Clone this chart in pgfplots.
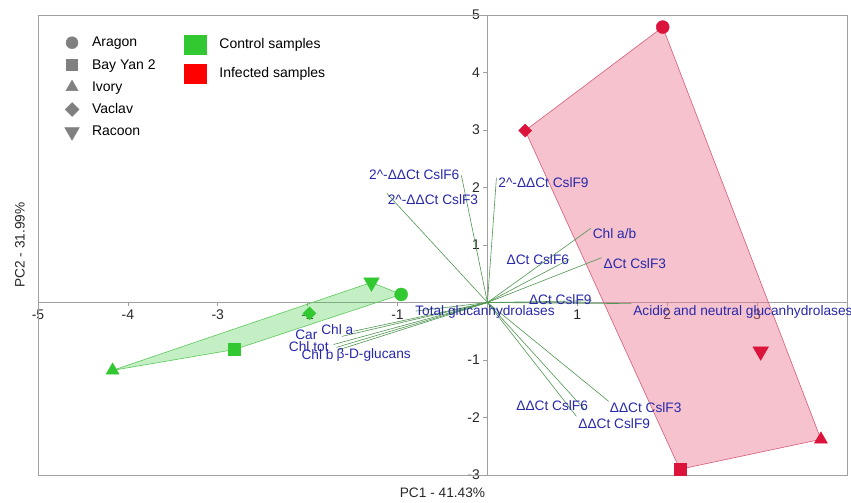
\documentclass[border=0pt]{standalone}
\usepackage{pgfplots}
\pgfplotsset{compat=1.18}
\usepackage{pgfplotstable}
\usepackage{fontspec}
\setmainfont{Liberation Sans}

\definecolor{ctrl}{RGB}{50,200,50}
\definecolor{inf}{RGB}{220,20,60}
\definecolor{ctrlfill}{RGB}{60,200,60}
\definecolor{inffill}{RGB}{232,120,145}
\definecolor{ctrledge}{RGB}{90,200,90}
\definecolor{infedge}{RGB}{215,90,120}
\definecolor{vec}{RGB}{80,150,80}
\definecolor{lbl}{RGB}{40,40,170}
\definecolor{axgray}{RGB}{160,160,160}
\definecolor{legray}{RGB}{128,128,128}
\definecolor{txtgray}{RGB}{40,40,40}

% downward pointing filled triangle
\pgfdeclareplotmark{tridown*}{%
  \pgfpathmoveto{\pgfqpointpolar{-90}{1.2\pgfplotmarksize}}%
  \pgfpathlineto{\pgfqpointpolar{30}{1.2\pgfplotmarksize}}%
  \pgfpathlineto{\pgfqpointpolar{150}{1.2\pgfplotmarksize}}%
  \pgfpathclose
  \pgfusepathqfillstroke
}
% square turned by 45 degrees
\pgfdeclareplotmark{rhomb*}{%
  \pgfpathmoveto{\pgfqpoint{0pt}{\pgfplotmarksize}}%
  \pgfpathlineto{\pgfqpoint{\pgfplotmarksize}{0pt}}%
  \pgfpathlineto{\pgfqpoint{0pt}{-\pgfplotmarksize}}%
  \pgfpathlineto{\pgfqpoint{-\pgfplotmarksize}{0pt}}%
  \pgfpathclose
  \pgfusepathqfillstroke
}

% PCA scores: control samples
\pgfplotstableread{
x y cv
-0.96 0.14 A
-2.82 -0.82 B
-4.17 -1.18 I
-1.98 -0.19 V
-1.29 0.35 R
}\ctrltab

% PCA scores: infected samples
\pgfplotstableread{
x y cv
1.95 4.79 A
2.14 -2.90 B
3.71 -2.38 I
0.42 2.99 V
3.04 -0.85 R
}\inftab

% Loadings (vector end points)
\pgfplotstableread{
u v
-0.29 2.21
-1.12 1.90
0.10 2.17
1.15 1.29
0.91 0.75
1.27 0.78
1.16 0.03
1.60 -0.02
-0.80 -0.15
-1.49 -0.50
-1.62 -0.59
-1.71 -0.73
-1.68 -0.78
-1.65 -0.82
1.08 -1.86
1.35 -1.72
0.99 -1.98
}\loadtab

\tikzset{lab/.style={text=lbl, font=\fontsize{13.7}{16}\selectfont, inner sep=0pt}}

\begin{document}
\begin{tikzpicture}
\begin{axis}[
  at={(0,0)}, anchor=south west,
  scale only axis, width=809pt, height=460pt,
  xmin=-5, xmax=4, ymin=-3, ymax=5,
  axis lines=middle,
  axis line style={axgray, line width=0.8pt, -},
  xtick={-5,...,3}, ytick={-3,-2,-1,1,2,3,4,5},
  tick style={axgray, line width=0.6pt},
  major tick length=4pt,
  tick align=outside,
  tick label style={font=\fontsize{14}{16}\selectfont, text=txtgray},
  /pgf/number format/assume math mode=true,
  clip=false,
  legend style={at={(axis description cs:0.027,0.961)}, anchor=north west,
    draw=none, fill=none, font=\fontsize{14}{16}\selectfont,
    row sep=7pt, cells={anchor=west}},
  legend image code/.code={\path[draw=none, fill=none] (0pt,-6pt) rectangle (27pt,6pt);
    \draw[#1] plot coordinates {(9pt,0pt)};},
  scatter/classes={
    A={mark=*, mark size=6.5pt},
    B={mark=square*, mark size=6pt},
    I={mark=triangle*, mark size=7.5pt},
    V={mark=rhomb*, mark size=6.5pt},
    R={mark=tridown*, mark size=7.5pt}},
]
% frame
\draw[axgray, line width=0.8pt] (rel axis cs:0,0) rectangle (rel axis cs:1,1);

% group hulls
\addplot[forget plot, fill=ctrlfill, fill opacity=0.3, draw=ctrledge, line width=0.6pt]
  coordinates {(-4.17,-1.18) (-1.29,0.35) (-0.96,0.14) (-2.82,-0.82)} -- cycle;
\addplot[forget plot, fill=inffill, fill opacity=0.45, draw=infedge, line width=0.6pt]
  coordinates {(1.95,4.79) (3.71,-2.38) (2.14,-2.90) (0.42,2.99)} -- cycle;

% loading vectors
\addplot[forget plot, vec, line width=0.6pt, quiver={u=\thisrow{u}, v=\thisrow{v}}]
  table[x expr=0, y expr=0] {\loadtab};

% scores
\addplot[forget plot, scatter, only marks, scatter src=explicit symbolic,
  every mark/.append style={ctrl, fill=ctrl}]
  table[x=x, y=y, meta=cv] {\ctrltab};
\addplot[forget plot, scatter, only marks, scatter src=explicit symbolic,
  every mark/.append style={inf, fill=inf}]
  table[x=x, y=y, meta=cv] {\inftab};

% loading labels
\node[lab, anchor=east] at (axis cs:-0.31,2.23) {2\^{}-ΔΔCt CslF6};
\node[lab, anchor=west] at (axis cs:-1.11,1.79) {2\^{}-ΔΔCt CslF3};
\node[lab, anchor=west] at (axis cs:0.12,2.09) {2\^{}-ΔΔCt CslF9};
\node[lab, anchor=west] at (axis cs:1.17,1.20) {Chl a/b};
\node[lab, anchor=east] at (axis cs:0.91,0.75) {ΔCt CslF6};
\node[lab, anchor=west] at (axis cs:1.29,0.68) {ΔCt CslF3};
\node[lab, anchor=east] at (axis cs:1.16,0.05) {ΔCt CslF9};
\node[lab, anchor=west] at (axis cs:1.62,-0.16) {Acidic and neutral glucanhydrolases};
\node[lab, anchor=east] at (axis cs:0.75,-0.17) {Total glucanhydrolases};
\node[lab, anchor=west] at (axis cs:-1.85,-0.47) {Chl a};
\node[lab, anchor=west] at (axis cs:-2.14,-0.56) {Car};
\node[lab, anchor=west] at (axis cs:-2.21,-0.76) {Chl tot};
\node[lab, anchor=west] at (axis cs:-2.07,-0.91) {Chl b};
\node[lab, anchor=west] at (axis cs:-1.68,-0.91) {β-D-glucans};
\node[lab, anchor=west] at (axis cs:0.32,-1.79) {ΔΔCt CslF6};
\node[lab, anchor=west] at (axis cs:1.36,-1.83) {ΔΔCt CslF3};
\node[lab, anchor=west] at (axis cs:1.01,-2.10) {ΔΔCt CslF9};

% axis titles
\node[text=txtgray, font=\fontsize{13.7}{16}\selectfont] at ([yshift=-18pt]rel axis cs:0.5,0) {PC1 - 41.43\%};
\node[text=txtgray, font=\fontsize{13.7}{16}\selectfont, rotate=90] at ([xshift=-18pt]rel axis cs:0,0.5) {PC2 - 31.99\%};

% cultivar legend
\addlegendimage{only marks, mark=*, legray, fill=legray, mark size=6pt}
\addlegendentry{Aragon}
\addlegendimage{only marks, mark=square*, legray, fill=legray, mark size=5.5pt}
\addlegendentry{Bay Yan 2}
\addlegendimage{only marks, mark=triangle*, legray, fill=legray, mark size=7pt}
\addlegendentry{Ivory}
\addlegendimage{only marks, mark=rhomb*, legray, fill=legray, mark size=7pt}
\addlegendentry{Vaclav}
\addlegendimage{only marks, mark=tridown*, legray, fill=legray, mark size=7pt}
\addlegendentry{Racoon}
\end{axis}

% sample-group legend
\begin{axis}[
  at={(0,0)}, anchor=south west,
  scale only axis, width=809pt, height=460pt,
  xmin=0, xmax=1, ymin=0, ymax=1, hide axis,
  legend style={at={(axis description cs:0.177,0.962)}, anchor=north west,
    draw=none, fill=none, font=\fontsize{14}{16}\selectfont,
    row sep=9pt, cells={anchor=west}},
  legend image code/.code={\fill[#1] (0pt,-10pt) rectangle (23pt,10pt);
    \path[draw=none, fill=none] (23pt,0pt) -- (33pt,0pt);},
]
\addlegendimage{fill=ctrl, draw=none}
\addlegendentry{Control samples}
\addlegendimage{fill=red, draw=none}
\addlegendentry{Infected samples}
\end{axis}

\pgfresetboundingbox
\path (-38pt,-28pt) rectangle (813pt,475pt);
\end{tikzpicture}
\end{document}
